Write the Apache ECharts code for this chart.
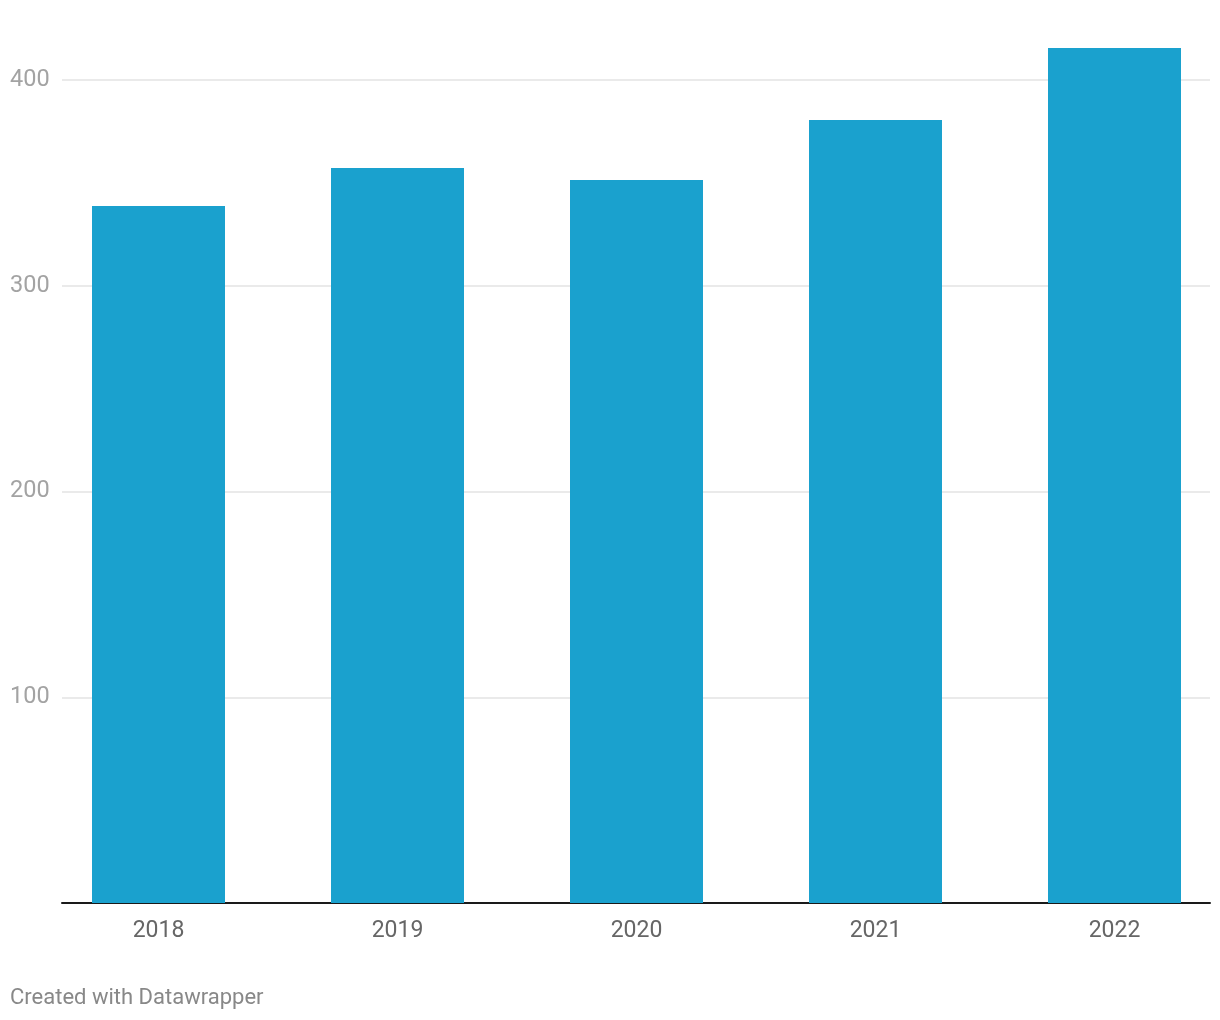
<!DOCTYPE html>
<html>
<head>
<meta charset="utf-8">
<script src="https://cdn.jsdelivr.net/npm/echarts@6/dist/echarts.min.js"></script>
<style>
html,body{margin:0;padding:0;background:#fff;}
#chart{width:1220px;height:1020px;}
</style>
</head>
<body>
<div id="chart"></div>
<script>
const years = ['2018', '2019', '2020', '2021', '2022'];
const values = [338.8, 357.2, 351.4, 380.6, 415.6];
const yTicks = [0, 100, 200, 300, 400];

const chart = echarts.init(document.getElementById('chart'), null, {renderer: 'canvas'});
const font = 'Roboto, "Noto Sans", sans-serif';
chart.setOption({
  animation: false,
  backgroundColor: '#ffffff',
  textStyle: {fontFamily: font},
  grid: [
    {left: 62, right: 10, top: 80, bottom: 117, outerBoundsMode: 'none'},
    {left: 39, right: -14, top: 80, bottom: 117, outerBoundsMode: 'none'}
  ],
  xAxis: [
    {gridIndex: 0, type: 'value', min: 0, max: 1,
     axisLine: {show: true, onZero: false, lineStyle: {color: '#1a1a1a', width: 2}},
     axisTick: {show: false}, axisLabel: {show: false}, splitLine: {show: false}},
    {gridIndex: 1, type: 'category', data: years,
     axisLine: {show: false}, axisTick: {show: false}, splitLine: {show: false},
     axisLabel: {color: '#666666', fontSize: 23, margin: 17, fontFamily: font}}
  ],
  yAxis: [
    {gridIndex: 0, type: 'value', min: yTicks[0], max: yTicks[yTicks.length - 1], interval: 100,
     axisLine: {show: false}, axisTick: {show: false},
     splitLine: {show: true, lineStyle: {color: '#e3e3e3', width: 1.5}},
     axisLabel: {color: '#a3a3a3', fontSize: 23.5, align: 'left', margin: 52, fontFamily: font,
                 padding: [6, 0, 0, 0],
                 formatter: v => (v === 0 ? '' : String(v))}},
    {gridIndex: 1, type: 'value', min: yTicks[0], max: yTicks[yTicks.length - 1], show: false}
  ],
  series: [{
    type: 'bar', xAxisIndex: 1, yAxisIndex: 1, data: values,
    barWidth: 133, clip: false,
    itemStyle: {color: '#1aa1ce'}
  }],
  graphic: [{
    type: 'text', left: 10, top: 987,
    style: {text: 'Created with Datawrapper', fill: '#888888', fontSize: 22, fontFamily: font}
  }]
});
</script>
</body>
</html>
